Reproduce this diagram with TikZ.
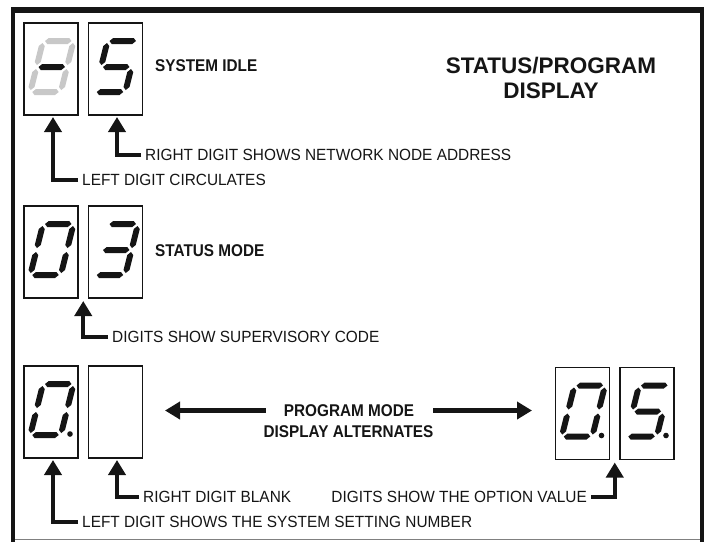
\documentclass[tikz,border=0pt]{standalone}
\usepackage{fontspec}
\setmainfont{Liberation Sans}
\newfontfamily\lblfont[FakeStretch=0.95]{Liberation Sans}
\newfontfamily\blblfont[FakeStretch=0.9]{Liberation Sans}
\usetikzlibrary{arrows.meta,calc}
\definecolor{ink}{HTML}{151515}
\definecolor{ghost}{HTML}{C8C8C8}
\newcommand\segA{\fill (25.5,18)--(28.5,15)--(49,15)--(52,18)--(49,21)--(28.5,21)--cycle;}
\newcommand\segG{\fill (25.5,44)--(28.5,41)--(49,41)--(52,44)--(49,47)--(28.5,47)--cycle;}
\newcommand\segD{\fill (25.5,69)--(28.5,66)--(49,66)--(52,69)--(49,72)--(28.5,72)--cycle;}
\newcommand\segF{\fill (23.5,20)--(26.5,23)--(26.5,39)--(23.5,42)--(20.5,39)--(20.5,23)--cycle;}
\newcommand\segB{\fill (54,20)--(57,23)--(57,39)--(54,42)--(51,39)--(51,23)--cycle;}
\newcommand\segE{\fill (23.5,46)--(26.5,49)--(26.5,64)--(23.5,67)--(20.5,64)--(20.5,49)--cycle;}
\newcommand\segC{\fill (54,46)--(57,49)--(57,64)--(54,67)--(51,64)--(51,49)--cycle;}
\newcommand\digitat[2]{\begin{scope}[shift={(#1)},xslant=0.25,fill=ink]#2\end{scope}}
\newcommand\dotat[1]{\fill[ink] ([shift={(46,68)}]#1) circle[radius=2.8pt];}
\begin{document}
\begin{tikzpicture}[x=1pt,y=-1pt,
  box/.style={draw=ink,line width=1.4pt,minimum width=54pt,minimum height=92pt,inner sep=0pt,outer sep=0pt},
  lbl/.style={font=\lblfont\fontsize{16.2}{18}\selectfont,text=ink,inner xsep=4pt,inner ysep=0pt},
  blbl/.style={font=\blblfont\bfseries\fontsize{17}{19}\selectfont,text=ink,inner sep=0pt},
  tlbl/.style={font=\bfseries\fontsize{22.5}{26}\selectfont,text=ink,inner sep=0pt},
  conn/.style={draw=ink,line width=4.2pt,-{Triangle[length=15pt,width=17pt]}},
]
\useasboundingbox (0,0) rectangle (709,542);
% frame
\fill[ink] (11,7) rectangle (704,13);
\fill[ink] (11,7) rectangle (15,542);
\fill[ink] (700,7) rectangle (704,542);
\draw[gray,line width=1pt] (15,539.5) -- (700,539.5);
% boxes
\node[box] (b1l) at (51,69) {};
\node[box] (b1r) at (115.5,69) {};
\node[box] (b2l) at (51,252) {};
\node[box] (b2r) at (115.5,252) {};
\node[box] (b3l) at (51,412) {};
\node[box] (b3r) at (115.5,412) {};
\node[box] (b4l) at (582.5,413.5) {};
\node[box] (b4r) at (647,413.5) {};
% digits
\begin{scope}[shift={(b1l.north west)},xslant=0.25]
  \begin{scope}[fill=ghost]\segA\segB\segC\segD\segE\segF\end{scope}
  \begin{scope}[fill=ink]\segG\end{scope}
\end{scope}
\digitat{b1r.north west}{\segA\segF\segG\segC\segD}
\digitat{b2l.north west}{\segA\segB\segC\segD\segE\segF}
\digitat{b2r.north west}{\segA\segB\segG\segC\segD}
\digitat{b3l.north west}{\segA\segB\segC\segD\segE\segF}
\dotat{b3l.north west}
\digitat{b4l.north west}{\segA\segB\segC\segD\segE\segF}
\dotat{b4l.north west}
\digitat{b4r.north west}{\segA\segF\segG\segC\segD}
\dotat{b4r.north west}
% bold labels
\node[blbl,anchor=west] (idle) at (155,66) {SYSTEM IDLE};
\node[blbl,anchor=west] (smode) at (155,251) {STATUS MODE};
\node[tlbl] (title1) at (551,66) {STATUS/PROGRAM};
\node[tlbl] (title2) at (551,91) {DISPLAY};
\node[blbl] (pm1) at (349,410.5) {PROGRAM MODE};
\node[blbl] (pm2) at (348.5,432) {DISPLAY ALTERNATES};
\coordinate (tipL) at (165,410.5);
\coordinate (tipR) at (532,410.5);
\draw[conn] ([xshift=-18pt]pm1.west) -- (tipL);
\draw[conn] ([xshift=19pt]pm1.east) -- (tipR);
% row 1 callouts
\node[lbl,anchor=west] (t1r) at (141,155) {RIGHT DIGIT SHOWS NETWORK NODE ADDRESS};
\node[lbl,anchor=west] (t1l) at (78,180) {LEFT DIGIT CIRCULATES};
\draw[conn] (t1r.west) -| ([xshift=1.5pt,yshift=-2pt]b1r.south);
\draw[conn] (t1l.west) -| ([xshift=2pt,yshift=-2pt]b1l.south);
% row 2 callout
\coordinate (gap2) at ($(b2l.south east)!0.5!(b2r.south west)+(0,3)$);
\node[lbl,anchor=west] (t2) at (108,337) {DIGITS SHOW SUPERVISORY CODE};
\draw[conn] (t2.west) -| (gap2);
% row 3 callouts
\node[lbl,anchor=west] (t3r) at (139,497) {RIGHT DIGIT BLANK};
\node[lbl,anchor=west] (t3l) at (78,522) {LEFT DIGIT SHOWS THE SYSTEM SETTING NUMBER};
\draw[conn] (t3r.west) -| ([xshift=1.5pt,yshift=-2pt]b3r.south);
\draw[conn] (t3l.west) -| ([xshift=2pt,yshift=-2pt]b3l.south);
\coordinate (gap4) at ($(b4l.south east)!0.5!(b4r.south west)+(0,3)$);
\node[lbl,anchor=east] (t4) at (591,497) {DIGITS SHOW THE OPTION VALUE};
\draw[conn] (t4.east) -| (gap4);
\end{tikzpicture}
\end{document}
